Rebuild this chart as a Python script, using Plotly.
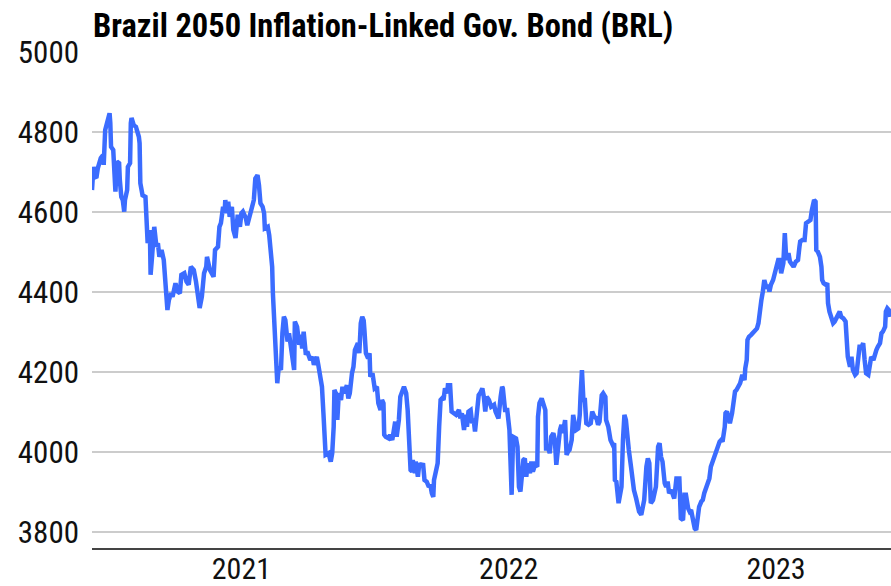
import plotly.graph_objects as go

title_text = "Brazil 2050 Inflation-Linked Gov. Bond (BRL)"
y_ticks = [3800, 4000, 4200, 4400, 4600, 4800, 5000]
x_ticks = ["2021-01-01", "2022-01-01", "2023-01-01"]
x_tick_labels = ["2021", "2022", "2023"]

dates = [
    "2020-06-11","2020-06-13","2020-06-14","2020-06-17","2020-06-19","2020-06-23","2020-06-26","2020-06-27","2020-06-29","2020-06-30",
    "2020-07-03","2020-07-05","2020-07-06","2020-07-07","2020-07-10","2020-07-11","2020-07-13","2020-07-15","2020-07-18","2020-07-19",
    "2020-07-21","2020-07-23","2020-07-25","2020-07-26","2020-07-29","2020-07-30","2020-08-02","2020-08-03","2020-08-04","2020-08-07",
    "2020-08-10","2020-08-14","2020-08-15","2020-08-16","2020-08-17","2020-08-19","2020-08-23","2020-08-25","2020-08-26","2020-08-29",
    "2020-08-30","2020-09-01","2020-09-03","2020-09-04","2020-09-07","2020-09-09","2020-09-11","2020-09-14","2020-09-17","2020-09-20",
    "2020-09-22","2020-09-24","2020-09-27","2020-09-29","2020-10-03","2020-10-06","2020-10-09","2020-10-11","2020-10-15","2020-10-18",
    "2020-10-21","2020-10-24","2020-10-28","2020-10-31","2020-11-03","2020-11-05","2020-11-08","2020-11-11","2020-11-14","2020-11-15",
    "2020-11-19","2020-11-22","2020-11-24","2020-11-26","2020-11-30","2020-12-02","2020-12-04","2020-12-07","2020-12-09","2020-12-10",
    "2020-12-12","2020-12-14","2020-12-16","2020-12-19","2020-12-21","2020-12-24","2020-12-27","2020-12-30",
    "2021-01-01","2021-01-03","2021-01-07","2021-01-09","2021-01-13","2021-01-16","2021-01-18","2021-01-20","2021-01-23","2021-01-25",
    "2021-01-27","2021-01-30","2021-02-01","2021-02-02","2021-02-06","2021-02-08","2021-02-10","2021-02-12","2021-02-13","2021-02-15",
    "2021-02-17","2021-02-19","2021-02-21","2021-02-24","2021-02-26","2021-02-28","2021-03-02","2021-03-05","2021-03-07","2021-03-09",
    "2021-03-11","2021-03-14","2021-03-15","2021-03-18","2021-03-21","2021-03-23","2021-03-25","2021-03-27","2021-03-30","2021-04-01",
    "2021-04-05","2021-04-08","2021-04-10","2021-04-14","2021-04-16","2021-04-18","2021-04-21","2021-04-23","2021-04-25","2021-04-26",
    "2021-04-30","2021-05-03","2021-05-05","2021-05-07","2021-05-08","2021-05-10","2021-05-12","2021-05-14","2021-05-17","2021-05-19",
    "2021-05-21","2021-05-25","2021-05-27","2021-05-29","2021-06-01","2021-06-03","2021-06-05","2021-06-09","2021-06-11","2021-06-13",
    "2021-06-15","2021-06-17","2021-06-18","2021-06-20","2021-06-23","2021-06-25","2021-06-26","2021-06-29","2021-07-02","2021-07-05",
    "2021-07-07","2021-07-10","2021-07-12","2021-07-14","2021-07-15","2021-07-17","2021-07-21","2021-07-23","2021-07-26","2021-07-28",
    "2021-07-30","2021-08-01","2021-08-04","2021-08-06","2021-08-08","2021-08-11","2021-08-14","2021-08-16","2021-08-18","2021-08-20",
    "2021-08-22","2021-08-23","2021-08-26","2021-08-27","2021-08-30","2021-09-01","2021-09-04","2021-09-06","2021-09-08","2021-09-11",
    "2021-09-14","2021-09-16","2021-09-18","2021-09-20","2021-09-21","2021-09-24","2021-09-26","2021-09-28","2021-09-30","2021-10-02",
    "2021-10-04","2021-10-06","2021-10-09","2021-10-10","2021-10-13","2021-10-15","2021-10-18","2021-10-21","2021-10-25","2021-10-27",
    "2021-10-29","2021-11-01","2021-11-03","2021-11-05","2021-11-07","2021-11-10","2021-11-12","2021-11-14","2021-11-16","2021-11-19",
    "2021-11-21","2021-11-23","2021-11-26","2021-11-28","2021-11-30","2021-12-02","2021-12-05","2021-12-08","2021-12-12","2021-12-14",
    "2021-12-16","2021-12-18","2021-12-21","2021-12-23","2021-12-24","2021-12-27","2021-12-30",
    "2022-01-02","2022-01-05","2022-01-07","2022-01-11","2022-01-13","2022-01-15","2022-01-17","2022-01-21","2022-01-23","2022-01-25",
    "2022-01-27","2022-01-30","2022-02-01","2022-02-03","2022-02-06","2022-02-09","2022-02-10","2022-02-12","2022-02-15","2022-02-17",
    "2022-02-20","2022-02-21","2022-02-24","2022-02-26","2022-02-28","2022-03-03","2022-03-05","2022-03-07","2022-03-09","2022-03-12",
    "2022-03-14","2022-03-16","2022-03-19","2022-03-21","2022-03-23","2022-03-25","2022-03-28","2022-03-30","2022-04-01","2022-04-03",
    "2022-04-06","2022-04-08","2022-04-09","2022-04-11","2022-04-13","2022-04-15","2022-04-17","2022-04-20","2022-04-23","2022-04-25",
    "2022-04-28","2022-05-01","2022-05-03","2022-05-05","2022-05-08","2022-05-10","2022-05-13","2022-05-14","2022-05-17","2022-05-20",
    "2022-05-23","2022-05-25","2022-05-26","2022-05-28","2022-05-31","2022-06-02","2022-06-04","2022-06-06","2022-06-08","2022-06-10",
    "2022-06-12","2022-06-14","2022-06-17","2022-06-19","2022-06-21","2022-06-24","2022-06-26","2022-06-28","2022-07-01","2022-07-03",
    "2022-07-05","2022-07-08","2022-07-10","2022-07-12","2022-07-14","2022-07-17","2022-07-19","2022-07-21","2022-07-24","2022-07-26",
    "2022-07-28","2022-07-30","2022-08-02","2022-08-04","2022-08-06","2022-08-08","2022-08-11","2022-08-13","2022-08-15","2022-08-18",
    "2022-08-20","2022-08-22","2022-08-24","2022-08-27","2022-08-29","2022-08-31","2022-09-03","2022-09-05","2022-09-07","2022-09-09",
    "2022-09-12","2022-09-14","2022-09-16","2022-09-18","2022-09-21","2022-09-23","2022-09-25","2022-09-28","2022-09-30","2022-10-02",
    "2022-10-04","2022-10-07","2022-10-09","2022-10-11","2022-10-14","2022-10-16","2022-10-18","2022-10-20","2022-10-23","2022-10-24",
    "2022-10-26","2022-10-28","2022-10-30","2022-11-02","2022-11-04","2022-11-06","2022-11-08","2022-11-11","2022-11-13","2022-11-16",
    "2022-11-19","2022-11-20","2022-11-22","2022-11-23","2022-11-25","2022-11-28","2022-12-01","2022-12-04","2022-12-06","2022-12-08",
    "2022-12-10","2022-12-12","2022-12-14","2022-12-16","2022-12-19","2022-12-21","2022-12-23","2022-12-25","2022-12-28","2022-12-30",
    "2023-01-02","2023-01-04","2023-01-06","2023-01-08","2023-01-11","2023-01-13","2023-01-15","2023-01-18","2023-01-20","2023-01-22",
    "2023-01-25","2023-01-28","2023-01-31","2023-02-02","2023-02-03","2023-02-06","2023-02-09","2023-02-11","2023-02-14","2023-02-17",
    "2023-02-19","2023-02-22","2023-02-24","2023-02-25","2023-02-27","2023-03-02","2023-03-04","2023-03-05","2023-03-07","2023-03-10",
    "2023-03-12","2023-03-13","2023-03-15","2023-03-18","2023-03-20","2023-03-22","2023-03-24","2023-03-27","2023-03-29","2023-03-31",
    "2023-04-03","2023-04-06","2023-04-08","2023-04-09","2023-04-12","2023-04-14","2023-04-16","2023-04-19","2023-04-21","2023-04-23",
    "2023-04-25","2023-04-28","2023-04-30","2023-05-02","2023-05-04","2023-05-07","2023-05-09","2023-05-11","2023-05-14","2023-05-16",
    "2023-05-18","2023-05-20","2023-05-23","2023-05-25","2023-05-27","2023-05-30","2023-05-31","2023-06-02","2023-06-04","2023-06-06",
]

prices = [
    4655,4713,4690,4685,4710,4735,4742,4718,4805,4813,
    4835,4847,4822,4763,4755,4688,4651,4726,4722,4680,
    4638,4630,4601,4630,4655,4713,4722,4822,4835,4817,
    4813,4788,4772,4672,4663,4642,4638,4538,4522,4555,
    4443,4488,4547,4563,4513,4522,4488,4505,4480,4413,
    4355,4380,4397,4388,4422,4401,4397,4443,4447,4426,
    4418,4463,4455,4426,4388,4360,4388,4447,4463,4488,
    4455,4447,4438,4505,4513,4563,4572,4613,4597,4630,
    4597,4626,4588,4613,4555,4535,4593,4563,
    4597,4601,4585,4567,4597,4618,4630,4684,4692,4667,
    4622,4613,4597,4559,4563,4542,4497,4463,4397,4313,
    4230,4172,4213,4205,4297,4338,4330,4276,4297,4268,
    4247,4205,4326,4313,4268,4293,4259,4301,4243,4251,
    4230,4238,4218,4238,4218,4197,4163,4097,4038,3993,
    3997,3976,3997,4063,4155,4147,4080,4147,4130,4163,
    4147,4167,4134,4147,4197,4213,4255,4272,4247,4322,
    4338,4329,4304,4247,4234,4247,4188,4197,4159,4163,
    4122,4105,4130,4122,4043,4038,4034,4043,4030,4055,
    4076,4038,4080,4138,4151,4163,4147,4105,4030,3955,
    3951,3980,3947,3976,3938,3972,3963,3972,3930,3926,
    3913,3918,3897,3888,3930,3963,3972,4063,4130,4134,
    4130,4159,4147,4167,4167,4101,4097,4093,4105,4084,
    4097,4055,4093,4063,4101,4105,4072,4084,4051,4105,
    4142,4147,4159,4138,4101,4138,4130,4113,4118,4101,
    4095,4084,4138,4163,4159,4105,4105,
    4055,3893,4038,4034,4013,3913,3901,3980,3984,3938,
    3972,3947,3976,3951,3968,3963,4088,4122,4134,4118,
    4105,4009,4009,3997,4038,4047,4030,3968,4005,4055,
    4068,4047,4080,3993,4001,4005,4030,4093,4072,4055,
    4059,4093,4138,4205,4130,4130,4072,4068,4072,4101,
    4088,4084,4068,4076,4142,4147,4138,4080,4063,4030,
    4018,4022,3930,3926,3872,3897,3913,4030,4093,4080,
    4030,4005,3963,3930,3905,3884,3872,3851,3843,3863,
    3880,3963,3984,3972,3872,3880,3905,3913,4013,4022,
    3988,3976,3922,3913,3926,3897,3905,3897,3884,3934,
    3934,3934,3834,3830,3893,3893,3859,3851,3855,3830,
    3809,3805,3838,3863,3876,3880,3897,3913,3926,3934,
    3963,3980,3988,4001,4018,4026,4030,4026,4063,4097,
    4101,4080,4072,4097,4126,4151,4155,4163,4172,4193,
    4180,4209,4230,4280,4288,4293,4298,4305,4309,4322,
    4363,4380,4401,4430,4409,4418,4401,4418,4430,4445,
    4459,4480,4480,4447,4472,4547,4480,4497,4476,4472,
    4463,4476,4480,4513,4526,4530,4530,4572,4576,4580,
    4605,4630,4626,4505,4501,4488,4463,4430,4422,4418,
    4422,4372,4351,4330,4322,4326,4334,4347,4351,4338,
    4334,4326,4263,4238,4213,4238,4205,4193,4197,4247,
    4263,4263,4272,4230,4197,4193,4222,4238,4230,4247,
    4255,4263,4272,4297,4301,4313,4351,4359,4355,4338,
]

FONT = "Roboto Condensed, Roboto, sans-serif"
W, H = 891, 586

fig = go.Figure()
fig.add_trace(go.Scatter(
    x=dates, y=prices, mode="lines",
    line=dict(color="#3b6cff", width=4.5),
    hoverinfo="x+y", showlegend=False,
))

fig.update_layout(
    width=W, height=H,
    margin=dict(l=92, r=0, t=52, b=38),
    paper_bgcolor="white", plot_bgcolor="white",
    font=dict(family=FONT, color="#111111"),
    title=dict(
        text=title_text,
        font=dict(family=FONT, size=32.5, color="#000000", weight="bold"),
        x=93 / W, xref="container", xanchor="left",
        y=1 - 26 / H, yref="container", yanchor="middle",
    ),
    xaxis=dict(
        type="date",
        range=["2020-06-11", "2023-06-07"],
        tickvals=x_ticks, ticktext=x_tick_labels,
        showgrid=False, zeroline=False,
        showline=True, linecolor="#444444", linewidth=2,
        ticks="", ticklabelstandoff=-7, automargin=False,
        tickfont=dict(size=30, color="#111111"),
    ),
    yaxis=dict(
        range=[3760, 5000],
        tickvals=y_ticks,
        showgrid=True, gridcolor="#cccccc", gridwidth=1.5,
        zeroline=False, showline=False, automargin=False,
        ticks="", ticklabelstandoff=12,
        tickfont=dict(size=31, color="#111111"),
    ),
)

# remove the default 8px page margin so the figure sits at the window's origin
fig.write_html(
    "out.html",
    config={"displayModeBar": False},
    post_script="document.body.style.margin='0';document.body.style.overflow='hidden';",
)
